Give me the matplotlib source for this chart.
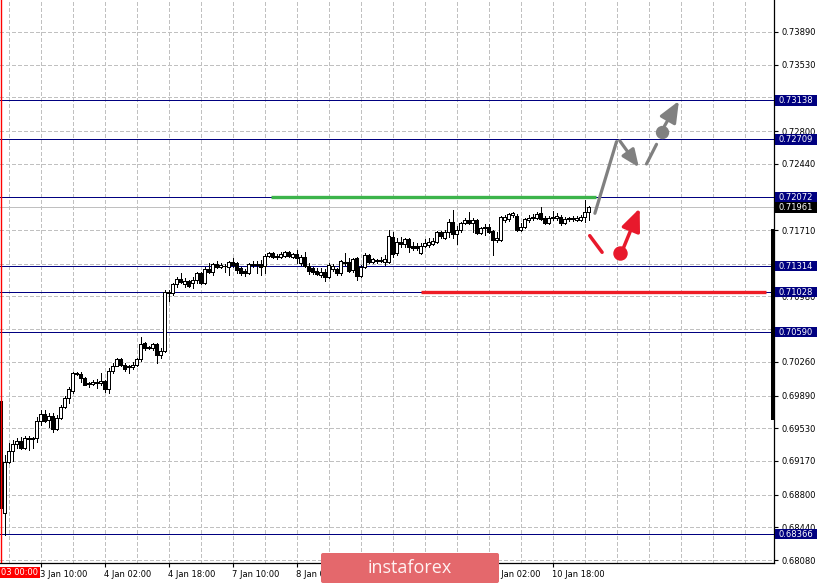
import matplotlib
matplotlib.use('Agg')
import matplotlib.pyplot as plt
import matplotlib.transforms as mtransforms
from matplotlib.patches import Rectangle, FancyBboxPatch
import numpy as np

# ---------------- data (H1 candles, from 3 Jan 00:00) ----------------
opens = [0.6983, 0.6860, 0.6916, 0.6928, 0.6936, 0.6939, 0.6931, 0.6942, 0.6941, 0.6942,
         0.6961, 0.6969, 0.6962, 0.6967, 0.6952, 0.6964, 0.6976, 0.6986, 0.6994, 0.7014,
         0.7013, 0.7008, 0.7003, 0.7002, 0.7004, 0.7003, 0.7005, 0.6996, 0.7016, 0.7022,
         0.7029, 0.7023, 0.7021, 0.7020, 0.7023, 0.7029, 0.7047, 0.7042, 0.7041, 0.7046,
         0.7034, 0.7038, 0.7102, 0.7102, 0.7112, 0.7117, 0.7112, 0.7115, 0.7113, 0.7116,
         0.7124, 0.7113, 0.7128, 0.7125, 0.7134, 0.7130, 0.7132, 0.7130, 0.7136, 0.7135,
         0.7129, 0.7126, 0.7124, 0.7133, 0.7133, 0.7134, 0.7132, 0.7142, 0.7146, 0.7141,
         0.7141, 0.7142, 0.7147, 0.7141, 0.7145, 0.7135, 0.7141, 0.7131, 0.7129, 0.7126,
         0.7122, 0.7125, 0.7119, 0.7128, 0.7128, 0.7124, 0.7136, 0.7136, 0.7127, 0.7140,
         0.7120, 0.7130, 0.7144, 0.7136, 0.7137, 0.7138, 0.7136, 0.7136, 0.7163, 0.7146,
         0.7158, 0.7156, 0.7161, 0.7153, 0.7153, 0.7146, 0.7153, 0.7155, 0.7156, 0.7158,
         0.7169, 0.7162, 0.7169, 0.7180, 0.7167, 0.7171, 0.7179, 0.7182, 0.7179, 0.7182,
         0.7168, 0.7173, 0.7174, 0.7170, 0.7160, 0.7160, 0.7182, 0.7183, 0.7188, 0.7186,
         0.7171, 0.7174, 0.7182, 0.7184, 0.7184, 0.7190, 0.7184, 0.7179, 0.7184, 0.7184,
         0.7185, 0.7179, 0.7183, 0.7183, 0.7182, 0.7182, 0.7185, 0.7191]
highs = [0.6986, 0.6923, 0.6937, 0.6940, 0.6942, 0.6943, 0.6945, 0.6945, 0.6943, 0.6965,
         0.6973, 0.6973, 0.6970, 0.6970, 0.6968, 0.6979, 0.6989, 0.6998, 0.7015, 0.7015,
         0.7015, 0.7009, 0.7004, 0.7006, 0.7007, 0.7014, 0.7006, 0.7019, 0.7025, 0.7030,
         0.7030, 0.7025, 0.7023, 0.7026, 0.7030, 0.7053, 0.7048, 0.7044, 0.7047, 0.7047,
         0.7041, 0.7105, 0.7105, 0.7113, 0.7119, 0.7124, 0.7118, 0.7116, 0.7119, 0.7125,
         0.7125, 0.7130, 0.7135, 0.7135, 0.7137, 0.7135, 0.7134, 0.7137, 0.7140, 0.7136,
         0.7130, 0.7128, 0.7135, 0.7137, 0.7137, 0.7138, 0.7145, 0.7147, 0.7147, 0.7145,
         0.7147, 0.7148, 0.7148, 0.7146, 0.7149, 0.7144, 0.7147, 0.7135, 0.7130, 0.7129,
         0.7129, 0.7128, 0.7135, 0.7134, 0.7129, 0.7138, 0.7146, 0.7140, 0.7140, 0.7141,
         0.7133, 0.7146, 0.7145, 0.7140, 0.7139, 0.7141, 0.7144, 0.7171, 0.7169, 0.7162,
         0.7163, 0.7162, 0.7162, 0.7158, 0.7157, 0.7157, 0.7161, 0.7162, 0.7162, 0.7170,
         0.7170, 0.7171, 0.7183, 0.7193, 0.7176, 0.7180, 0.7184, 0.7191, 0.7184, 0.7183,
         0.7174, 0.7178, 0.7178, 0.7171, 0.7169, 0.7186, 0.7188, 0.7190, 0.7191, 0.7189,
         0.7179, 0.7184, 0.7188, 0.7189, 0.7191, 0.7196, 0.7186, 0.7186, 0.7192, 0.7190,
         0.7188, 0.7185, 0.7185, 0.7186, 0.7186, 0.7188, 0.7204, 0.7197]
lows = [0.6863, 0.6836, 0.6915, 0.6917, 0.6931, 0.6930, 0.6930, 0.6929, 0.6931, 0.6938,
        0.6957, 0.6960, 0.6954, 0.6949, 0.6951, 0.6963, 0.6975, 0.6981, 0.6992, 0.7012,
        0.7004, 0.7001, 0.6998, 0.7001, 0.6997, 0.7001, 0.6993, 0.6992, 0.7014, 0.7021,
        0.7021, 0.7016, 0.7014, 0.7018, 0.7022, 0.7027, 0.7039, 0.7040, 0.7039, 0.7025,
        0.7030, 0.7037, 0.7093, 0.7100, 0.7108, 0.7113, 0.7108, 0.7108, 0.7107, 0.7113,
        0.7112, 0.7112, 0.7124, 0.7122, 0.7129, 0.7129, 0.7125, 0.7122, 0.7130, 0.7124,
        0.7122, 0.7120, 0.7123, 0.7130, 0.7124, 0.7122, 0.7124, 0.7141, 0.7140, 0.7139,
        0.7140, 0.7141, 0.7141, 0.7140, 0.7135, 0.7133, 0.7130, 0.7123, 0.7123, 0.7122,
        0.7119, 0.7115, 0.7118, 0.7126, 0.7122, 0.7122, 0.7133, 0.7125, 0.7125, 0.7116,
        0.7119, 0.7129, 0.7135, 0.7135, 0.7135, 0.7136, 0.7133, 0.7135, 0.7141, 0.7144,
        0.7152, 0.7152, 0.7147, 0.7149, 0.7149, 0.7145, 0.7152, 0.7152, 0.7155, 0.7157,
        0.7162, 0.7161, 0.7163, 0.7162, 0.7156, 0.7169, 0.7178, 0.7178, 0.7169, 0.7167,
        0.7167, 0.7166, 0.7168, 0.7144, 0.7158, 0.7159, 0.7180, 0.7181, 0.7185, 0.7170,
        0.7170, 0.7173, 0.7180, 0.7182, 0.7183, 0.7182, 0.7178, 0.7178, 0.7182, 0.7182,
        0.7177, 0.7178, 0.7181, 0.7181, 0.7181, 0.7181, 0.7180, 0.7182]
closes = [0.6865, 0.6916, 0.6928, 0.6936, 0.6939, 0.6931, 0.6942, 0.6941, 0.6942, 0.6961,
          0.6969, 0.6961, 0.6967, 0.6952, 0.6964, 0.6976, 0.6986, 0.6996, 0.7014, 0.7013,
          0.7008, 0.7001, 0.7002, 0.7004, 0.7003, 0.7005, 0.6996, 0.7016, 0.7022, 0.7029,
          0.7023, 0.7018, 0.7020, 0.7023, 0.7029, 0.7046, 0.7041, 0.7041, 0.7046, 0.7034,
          0.7038, 0.7103, 0.7103, 0.7112, 0.7117, 0.7114, 0.7115, 0.7110, 0.7116, 0.7124,
          0.7113, 0.7128, 0.7125, 0.7134, 0.7130, 0.7133, 0.7131, 0.7136, 0.7133, 0.7127,
          0.7124, 0.7124, 0.7134, 0.7134, 0.7134, 0.7130, 0.7142, 0.7146, 0.7141, 0.7142,
          0.7145, 0.7147, 0.7142, 0.7145, 0.7140, 0.7141, 0.7131, 0.7126, 0.7125, 0.7123,
          0.7125, 0.7119, 0.7133, 0.7132, 0.7124, 0.7137, 0.7135, 0.7126, 0.7139, 0.7120,
          0.7130, 0.7144, 0.7136, 0.7139, 0.7138, 0.7137, 0.7139, 0.7164, 0.7145, 0.7158,
          0.7156, 0.7161, 0.7152, 0.7151, 0.7151, 0.7153, 0.7157, 0.7158, 0.7159, 0.7169,
          0.7164, 0.7169, 0.7180, 0.7167, 0.7171, 0.7179, 0.7182, 0.7179, 0.7182, 0.7168,
          0.7173, 0.7174, 0.7169, 0.7160, 0.7162, 0.7185, 0.7185, 0.7189, 0.7190, 0.7171,
          0.7174, 0.7183, 0.7184, 0.7185, 0.7189, 0.7183, 0.7179, 0.7184, 0.7185, 0.7186,
          0.7179, 0.7183, 0.7184, 0.7184, 0.7184, 0.7185, 0.7191, 0.71961]

xtick_idx = [10, 26, 42, 58, 74, 90, 106, 122, 138]
xtick_labels = ['3 Jan 10:00', '4 Jan 02:00', '4 Jan 18:00', '7 Jan 10:00', '8 Jan 02:00',
                '8 Jan 18:00', '9 Jan 10:00', '10 Jan 02:00', '10 Jan 18:00']
# labels fully hidden under the watermark in the reference
hidden_xlabels = ['8 Jan 18:00', '9 Jan 10:00']
first_label = '03 00:00'
ytick_vals = [0.73890, 0.73530, 0.73170, 0.72800, 0.72440, 0.72070, 0.71710, 0.71340,
              0.70980, 0.70620, 0.70260, 0.69890, 0.69530, 0.69170, 0.68800, 0.68440, 0.68080]
# labels fully hidden behind the price boxes in the reference
hidden_ticks = [0.73170, 0.72070, 0.71340, 0.70620]
level_lines = [0.73138, 0.72709, 0.72072, 0.71314, 0.71028, 0.70590, 0.68366]
current_price = 0.71961
resistance_level = 0.72078
support_level = 0.71028

# ---------------- figure ----------------
W, H = 819, 584
PW, PH = 774, 563
fig = plt.figure(figsize=(W / 100, H / 100), dpi=100)
fig.patch.set_facecolor('white')
ax = fig.add_axes([0, (H - PH) / H, PW / W, PH / H])
ymin, ymax = 0.680471, 0.742421
ax.set_xlim(-0.125, 193.375)
ax.set_ylim(ymin, ymax)

LW1 = 0.7  # one device pixel
grid_kw = dict(color='#c0c0c0', lw=LW1, ls=(0, (4, 3)), zorder=0, antialiased=False)
for yv in ytick_vals:
    ax.axhline(yv, **grid_kw)
for xv in range(2, 194, 8):
    ax.axvline(xv, **grid_kw)

# level lines
for lvl in level_lines:
    ax.axhline(lvl, color='#000080', lw=LW1, zorder=1, antialiased=False)
ax.axhline(current_price, color='#c0c0c0', lw=LW1, zorder=1, antialiased=False)

# candles
o = np.array(opens); h = np.array(highs); l = np.array(lows); c = np.array(closes)
x = np.arange(len(o))
ax.vlines(x, l, h, color='black', lw=LW1, zorder=3, antialiased=False)
bull = c >= o
ax.bar(x[bull], np.maximum((c - o)[bull], 0.00002), bottom=o[bull], width=0.8,
       facecolor='white', edgecolor='black', lw=LW1, zorder=4, antialiased=False)
ax.bar(x[~bull], (o - c)[~bull], bottom=c[~bull], width=0.8,
       facecolor='black', edgecolor='black', lw=LW1, zorder=4, antialiased=False)

# left red separator
ax.axvline(0, color='#ff0000', lw=1.0, zorder=6)

# analyst levels
ax.plot([67.5, 148.75], [resistance_level] * 2, color='#3cb44b', lw=2.4,
        solid_capstyle='butt', zorder=5)
ax.plot([105, 191.25], [support_level] * 2, color='#ee1c25', lw=2.4,
        solid_capstyle='butt', zorder=5)

# scenario arrows
gray = '#808080'
red = '#e8192c'
ax.plot([148.6, 154.0], [0.71895, 0.72683], color=gray, lw=2.3, solid_capstyle='round', zorder=8)
ax.annotate('', xy=(159.6, 0.72401), xytext=(154.8, 0.72694),
            arrowprops=dict(arrowstyle='-|>,head_length=0.4,head_width=0.17', color=gray,
                            lw=2.3, mutation_scale=26, shrinkA=0, shrinkB=0), zorder=8)
ax.plot([161.5, 164.0], [0.72438, 0.72654], color=gray, lw=2.3, solid_capstyle='round', zorder=8)
ax.plot([165.4], [0.72793], 'o', color=gray, ms=8.6, zorder=8)
ax.annotate('', xy=(169.6, 0.73131), xytext=(166.0, 0.72856),
            arrowprops=dict(arrowstyle='-|>,head_length=0.4,head_width=0.17', color=gray,
                            lw=2.3, mutation_scale=32, shrinkA=0, shrinkB=0), zorder=8)
ax.plot([147.3, 150.4], [0.71649, 0.71466], color=red, lw=2.5, solid_capstyle='round', zorder=8)
ax.plot([154.8], [0.71455], 'o', color=red, ms=9.4, zorder=8)
ax.annotate('', xy=(159.8, 0.71950), xytext=(155.7, 0.71510),
            arrowprops=dict(arrowstyle='-|>,head_length=0.4,head_width=0.17', color=red,
                            lw=2.5, mutation_scale=34, shrinkA=0, shrinkB=0), zorder=8)

# spines / ticks
for s in ['left', 'top']:
    ax.spines[s].set_visible(False)
for s in ['right', 'bottom']:
    ax.spines[s].set_color('black')
    ax.spines[s].set_linewidth(0.9)
ax.yaxis.tick_right()
ax.set_yticks(ytick_vals)
ax.set_yticklabels(['' if v in hidden_ticks else f'{v:.5f}' for v in ytick_vals])
ax.tick_params(axis='y', direction='out', length=3, width=0.8, pad=2.5, labelsize=6,
               colors='black')
ax.set_xticks(xtick_idx)
ax.set_xticklabels(['' if s in hidden_xlabels else s for s in xtick_labels], ha='left')
ax.tick_params(axis='x', direction='out', length=3, width=0.8, pad=2, labelsize=6,
               colors='black')

# price boxes on the right
trans = mtransforms.blended_transform_factory(fig.transFigure, ax.transData)
ppu = PH / (ymax - ymin)
bh = 10.5 / ppu
def price_box(lvl, col):
    ax.add_patch(Rectangle((775 / W, lvl - bh / 2), 42 / W, bh, transform=trans,
                           facecolor=col, edgecolor='none', clip_on=False, zorder=6))
    ax.text(778.5 / W, lvl - 0.5 / ppu, f'{lvl:.5f}', transform=trans, color='white',
            fontsize=6, va='center', ha='left', clip_on=False, zorder=7)
for lvl in level_lines:
    price_box(lvl, '#000080')
price_box(current_price, '#000000')

# scroll marker at right edge
ax.add_patch(Rectangle((770.5 / PW, (PH - 420) / PH), 3.5 / PW, (420 - 229) / PH,
                       transform=ax.transAxes, facecolor='black', edgecolor='none',
                       clip_on=False, zorder=6))

# overlay: first-date box and watermark
ov = fig.add_axes([0, 0, 1, 1], zorder=10)
ov.set_xlim(0, W)
ov.set_ylim(H, 0)
ov.axis('off')
ov.add_patch(Rectangle((0, 567), 40, 11, facecolor='#ff0000', edgecolor='none'))
ov.text(1, 572.5, first_label, color='white', fontsize=6, va='center', ha='left')
ov.add_patch(FancyBboxPatch((321, 553), 178, 30, boxstyle='round,pad=0,rounding_size=2',
                            facecolor='#e4686c', edgecolor='none'))
ov.text(410, 568, 'instaforex', color='#fff2f2', fontsize=13, family='Open Sans',
        ha='center', va='center')

fig.savefig('out.png', dpi=100)
